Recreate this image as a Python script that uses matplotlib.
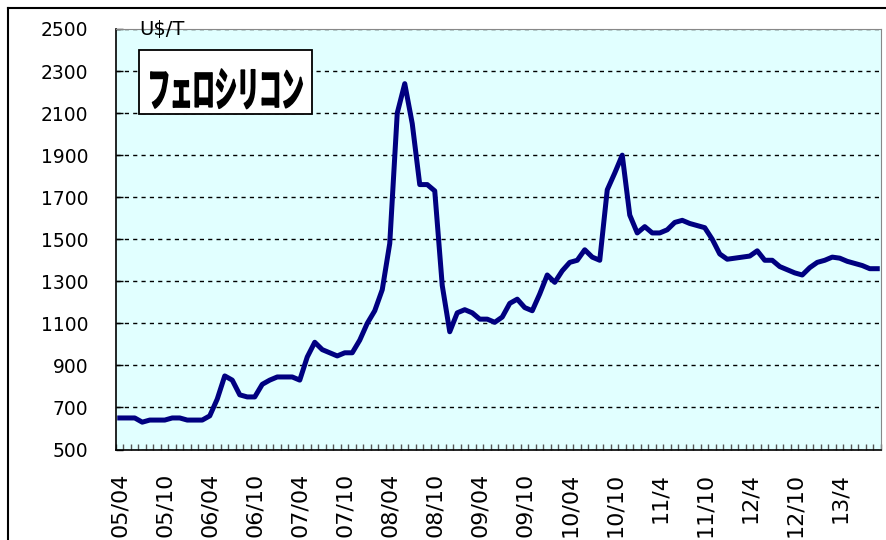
import matplotlib
matplotlib.use("Agg")
import matplotlib.pyplot as plt
import matplotlib.patheffects as pe
from matplotlib.patches import Rectangle
from matplotlib.lines import Line2D
from matplotlib.transforms import Affine2D
import numpy as np

# フェロシリコン価格 (US$/T), 月次 2005/04 - 2013/09
prices = [
    650, 650, 650, 630, 640, 640, 640, 650, 650, 640, 640, 640,        # 05/04-06/03
    660, 740, 850, 830, 760, 750, 750, 810, 830, 845, 845, 845,        # 06/04-07/03
    830, 940, 1010, 975, 960, 945, 960, 960, 1020, 1100, 1160, 1260,   # 07/04-08/03
    1480, 2100, 2240, 2050, 1760, 1760, 1730, 1280, 1060, 1150, 1165, 1150,  # 08/04-09/03
    1120, 1120, 1105, 1130, 1195, 1215, 1175, 1160, 1240, 1330, 1295, 1350,  # 09/04-10/03
    1390, 1400, 1450, 1415, 1400, 1735, 1815, 1900, 1615, 1530, 1560, 1530,  # 10/04-11/03
    1530, 1545, 1580, 1590, 1575, 1565, 1555, 1500, 1430, 1405, 1410, 1415,  # 11/04-12/03
    1420, 1445, 1400, 1400, 1370, 1355, 1340, 1330, 1365, 1390, 1400, 1415,  # 12/04-13/03
    1410, 1395, 1385, 1375, 1360, 1360,                                # 13/04-13/09
]
tick_labels = ["05/04", "05/10", "06/04", "06/10", "07/04", "07/10",
               "08/04", "08/10", "09/04", "09/10", "10/04", "10/10",
               "11/4", "11/10", "12/4", "12/10", "13/4"]
y_ticks = list(range(500, 2501, 200))
title = "フェロシリコン"
unit = "U$/T"


class Stretch(pe.AbstractPathEffect):
    # 縦長の太字タイトル用: グリフを縦に伸ばして縁取りする
    def __init__(self, sx=1.0, sy=1.0, stroke=0.0):
        super().__init__()
        self.sx, self.sy, self.stroke = sx, sy, stroke

    def draw_path(self, renderer, gc, tpath, affine, rgbFace=None):
        gc0 = renderer.new_gc()
        gc0.copy_properties(gc)
        gc0.set_linewidth(self.stroke)
        gc0.set_foreground(rgbFace if rgbFace is not None else "black")
        renderer.draw_path(gc0, tpath, Affine2D().scale(self.sx, self.sy) + affine, rgbFace)
        gc0.restore()


W, H = 887, 540
fig = plt.figure(figsize=(W / 100, H / 100), dpi=100)
ax = fig.add_axes([116 / W, 1 - 449.5 / H, (881 - 116) / W, (449.5 - 29) / H])
ax.set_facecolor("#E1FFFF")

x = np.arange(len(prices))
ax.plot(x, prices, color="#000080", lw=3.6, solid_joinstyle="round", zorder=3)

ax.set_xlim(-0.5, len(prices) - 0.5)
ax.set_ylim(500, 2500)

ax.set_yticks(y_ticks)
ax.tick_params(axis="y", direction="in", length=5, width=1, pad=20, labelsize=13.5)
ax.yaxis.grid(True, linestyle=(0, (3, 3)), color="black", lw=1.0)
ax.set_axisbelow(True)

ax.set_xticks(x[::6])
ax.set_xticklabels(tick_labels, rotation=90, fontsize=16)
ax.tick_params(axis="x", which="major", length=0, pad=17)
ax.set_xticks(np.arange(-0.5, len(prices), 1), minor=True)
ax.tick_params(axis="x", which="minor", direction="in", length=4, width=1, color="#555555")

for s in ["left", "bottom"]:
    ax.spines[s].set_color("black")
    ax.spines[s].set_linewidth(1.2)
for s in ["top", "right"]:
    ax.spines[s].set_color("#888888")
    ax.spines[s].set_linewidth(0.8)

# 単位
fig.text(139 / W, 1 - 29 / H, unit, fontsize=14, ha="left", va="center", zorder=5)

# タイトル枠
fig.add_artist(Rectangle((139 / W, 1 - 114 / H), 173 / W, 64 / H,
                         transform=fig.transFigure, facecolor="white",
                         edgecolor="black", lw=1.3, zorder=4))
fig.text(148 / W, 1 - 106 / H, title, fontsize=16, fontweight="bold",
         family=["Noto Sans CJK JP", "DejaVu Sans"], ha="left", va="baseline",
         zorder=6, path_effects=[Stretch(1.0, 2.1, 1.2)])

# 外枠 (左と上)
fig.add_artist(Line2D([8 / W, 8 / W], [0, 1 - 8 / H], transform=fig.transFigure, color="black", lw=1.5))
fig.add_artist(Line2D([8 / W, 1], [1 - 8 / H, 1 - 8 / H], transform=fig.transFigure, color="black", lw=1.5))

fig.savefig("out.png", dpi=100)
